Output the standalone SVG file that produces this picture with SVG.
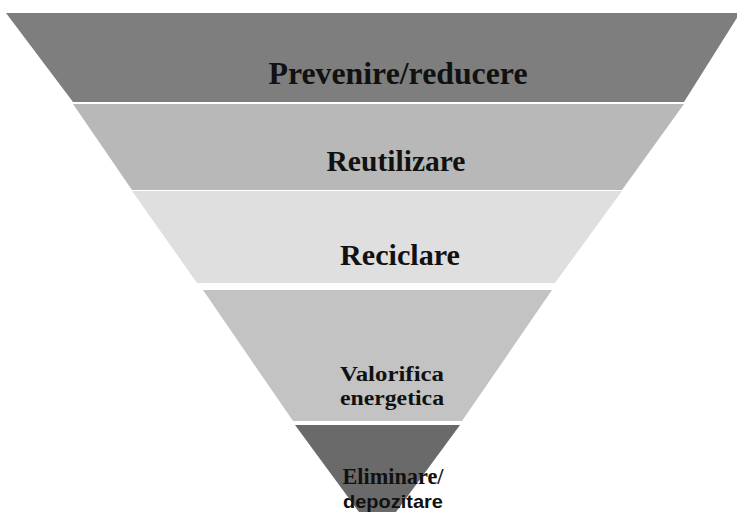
<svg xmlns="http://www.w3.org/2000/svg" width="737" height="512" viewBox="0 0 737 512">
<style>
.t{font-family:"Liberation Serif","Times New Roman",serif;font-weight:bold;fill:#111;text-anchor:middle}
.s{font-family:"Liberation Sans",Arial,sans-serif;font-weight:bold;fill:#111;text-anchor:middle}
</style>
<rect width="737" height="512" fill="#ffffff"/>
<g id="band1">
<polygon points="6,13 740,13 684,102 73,102" fill="#7e7e7e"/>
<text class="t" x="398" y="84" font-size="32" textLength="259" lengthAdjust="spacingAndGlyphs">Prevenire/reducere</text>
</g>
<g id="band2">
<polygon points="73,104 684,104 622,190 132,190" fill="#b8b8b8"/>
<text class="t" x="396" y="171" font-size="29" textLength="139" lengthAdjust="spacingAndGlyphs">Reutilizare</text>
</g>
<g id="band3">
<polygon points="132,191 622,191 555,283 197,283" fill="#dfdfdf"/>
<text class="t" x="400" y="265" font-size="30" textLength="120" lengthAdjust="spacingAndGlyphs">Reciclare</text>
</g>
<g id="band4">
<polygon points="203,290 552,290 462,421 293,421" fill="#c3c3c3"/>
<text class="t" x="392" y="381" font-size="20" textLength="104" lengthAdjust="spacingAndGlyphs">Valorifica</text>
<text class="t" x="392" y="405" font-size="20" textLength="104" lengthAdjust="spacingAndGlyphs">energetica</text>
</g>
<g id="band5">
<polygon points="295,425 460,425 396,512 359,512" fill="#6a6a6a"/>
<text class="t" x="393" y="484" font-size="23" textLength="101" lengthAdjust="spacingAndGlyphs">Eliminare/</text>
<text class="s" x="393" y="508" font-size="19" textLength="100" lengthAdjust="spacingAndGlyphs">depozitare</text>
</g>
<g id="connectors"/>
</svg>
